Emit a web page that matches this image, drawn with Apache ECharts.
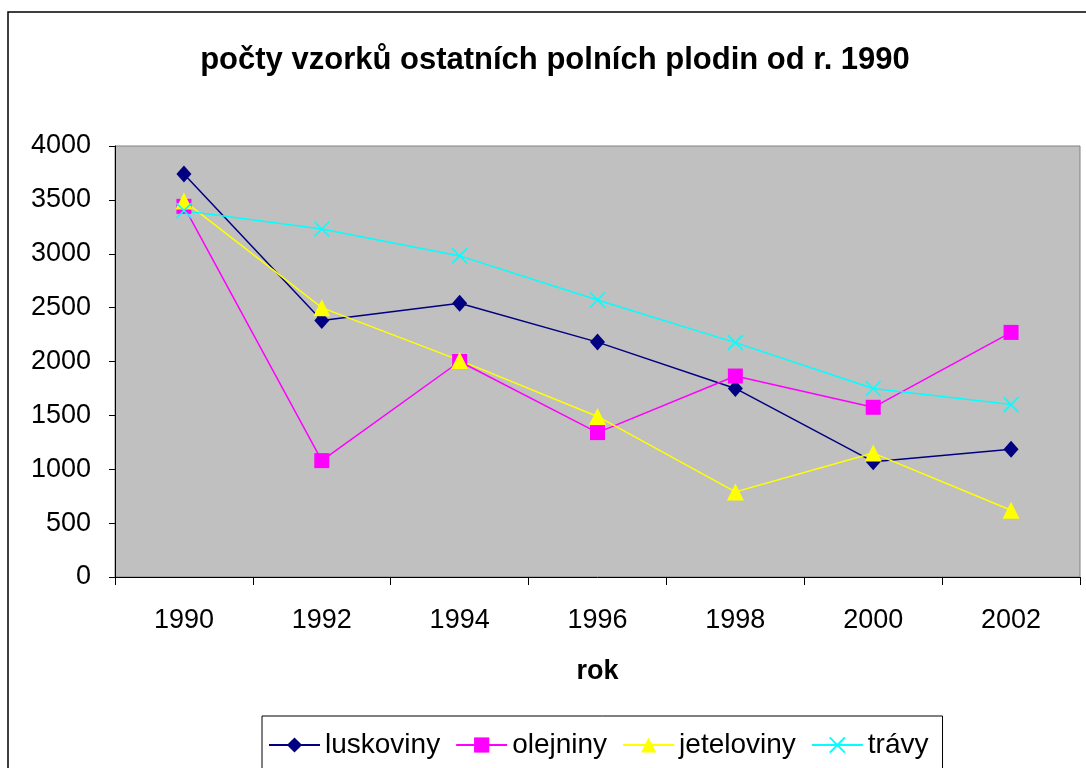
<!DOCTYPE html>
<html>
<head>
<meta charset="utf-8">
<script src="https://cdn.jsdelivr.net/npm/echarts@6/dist/echarts.min.js"></script>
<style>
  html, body { margin: 0; padding: 0; background: #fff; }
  #chart { width: 1086px; height: 768px; }
</style>
</head>
<body>
<div id="chart"></div>
<script>
// roky a počty vzorků
var years = ['1990', '1992', '1994', '1996', '1998', '2000', '2002'];
var luskoviny = [3740, 2380, 2540, 2180, 1750, 1070, 1185];
var olejniny = [3440, 1080, 2000, 1340, 1865, 1575, 2270];
var jeteloviny = [3490, 2500, 2010, 1490, 790, 1150, 620];
var travy = [3400, 3230, 2980, 2570, 2175, 1750, 1600];

var font = '"Liberation Sans", Arial, sans-serif';

function line(name, data, color, symbol, size, extra) {
  var s = {
    name: name,
    type: 'line',
    data: data,
    symbol: symbol,
    symbolSize: size,
    lineStyle: { color: color, width: 1.5 },
    itemStyle: { color: color },
    emphasis: { disabled: true }
  };
  if (extra) s.itemStyle = extra;
  return s;
}

var chart = echarts.init(document.getElementById('chart'));
chart.setOption({
  animation: false,
  textStyle: { fontFamily: font, color: '#000' },
  title: {
    text: 'počty vzorků ostatních polních plodin od r. 1990',
    left: 555,
    textAlign: 'center',
    top: 45,
    padding: 0,
    textStyle: { fontFamily: font, fontSize: 31, fontWeight: 'bold', color: '#000' }
  },
  graphic: [{
    type: 'rect',
    shape: { x: 8, y: 12, width: 1100, height: 800 },
    style: { fill: 'none', stroke: '#000', lineWidth: 1.5 },
    z: -1
  }],
  legend: {
    left: 262,
    top: 716,
    padding: [15, 14, 30, 6],
    borderColor: '#000',
    borderWidth: 1,
    itemWidth: 51,
    itemHeight: 19,
    itemGap: 15,
    textStyle: { fontFamily: font, fontSize: 28, color: '#000' },
    data: ['luskoviny', 'olejniny', 'jeteloviny', 'trávy']
  },
  grid: {
    left: 115,
    right: 6,
    top: 146,
    bottom: 191,
    show: true,
    backgroundColor: '#C0C0C0',
    borderColor: '#808080',
    borderWidth: 1,
    outerBoundsMode: 'none'
  },
  xAxis: {
    type: 'category',
    data: years,
    boundaryGap: true,
    name: 'rok',
    nameLocation: 'middle',
    nameGap: 81,
    nameTextStyle: { fontFamily: font, fontSize: 27, fontWeight: 'bold', color: '#000' },
    axisLine: { lineStyle: { color: '#000', width: 1 } },
    axisTick: { show: true, length: 8, lineStyle: { color: '#000' } },
    axisLabel: { margin: 30, fontSize: 27, color: '#000', fontFamily: font },
    splitLine: { show: false }
  },
  yAxis: {
    type: 'value',
    min: 0,
    max: 4000,
    interval: 500,
    axisLine: { show: true, lineStyle: { color: '#000', width: 1 } },
    axisTick: { show: true, length: 6, lineStyle: { color: '#000' } },
    axisLabel: {
      margin: 24, fontSize: 27, color: '#000', fontFamily: font,
      formatter: function (v) { return String(v); }
    },
    splitLine: { show: false }
  },
  series: [
    line('luskoviny', luskoviny, '#000080', 'diamond', [15, 17]),
    line('olejniny', olejniny, '#FF00FF', 'rect', 15),
    line('jeteloviny', jeteloviny, '#FFFF00', 'triangle', 17),
    line('trávy', travy, '#00FFFF', 'path://M0,0L10,10M10,0L0,10', 15,
      { color: '#00FFFF', borderColor: '#00FFFF', borderWidth: 1.5 })
  ]
});
</script>
</body>
</html>
